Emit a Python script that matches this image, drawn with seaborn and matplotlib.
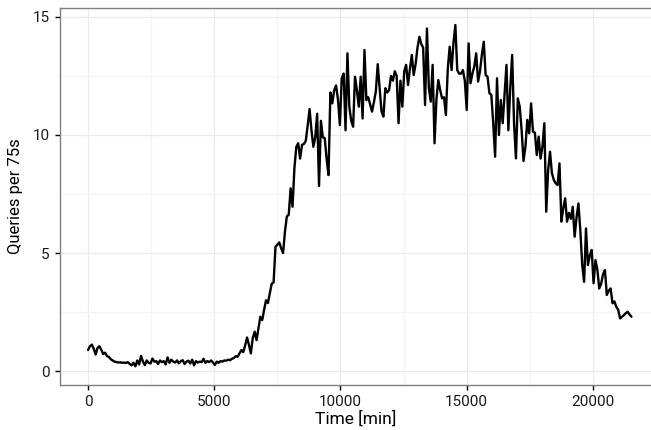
import numpy as np
import pandas as pd
import matplotlib
matplotlib.use('Agg')
import matplotlib.pyplot as plt
from matplotlib.ticker import MultipleLocator
import seaborn as sns

# query counts per 75s bucket, one sample every 75 minutes
step_min = 75
queries = [
    0.89, 1.05, 1.12, 0.95, 0.70, 0.98, 1.05, 0.90, 0.72, 0.78,
    0.63, 0.60, 0.50, 0.45, 0.40, 0.38, 0.36, 0.37, 0.35, 0.36,
    0.34, 0.38, 0.30, 0.24, 0.35, 0.20, 0.45, 0.28, 0.64, 0.40,
    0.25, 0.45, 0.35, 0.32, 0.53, 0.40, 0.42, 0.30, 0.45, 0.38,
    0.42, 0.28, 0.58, 0.35, 0.48, 0.40, 0.36, 0.45, 0.33, 0.42,
    0.46, 0.30, 0.40, 0.44, 0.32, 0.48, 0.24, 0.42, 0.36, 0.40,
    0.38, 0.52, 0.35, 0.42, 0.38, 0.45, 0.36, 0.26, 0.40, 0.35,
    0.42, 0.40, 0.45, 0.44, 0.48, 0.46, 0.52, 0.55, 0.63, 0.60,
    0.75, 0.89, 0.80, 1.10, 1.42, 1.10, 0.75, 1.40, 1.67, 1.31,
    1.80, 2.30, 2.16, 2.60, 3.00, 2.88, 3.30, 3.70, 3.75, 5.27,
    5.35, 5.45, 5.20, 5.00, 5.90, 6.55, 6.62, 7.74, 6.96, 8.60,
    9.50, 9.65, 9.00, 9.58, 9.62, 9.75, 10.40, 11.10, 10.20, 9.50,
    9.90, 10.90, 7.84, 10.60, 9.90, 9.87, 9.00, 8.30, 11.80, 11.34,
    11.90, 12.10, 11.50, 10.42, 12.40, 12.60, 10.20, 13.46, 11.20, 10.60,
    10.35, 12.47, 11.90, 11.20, 12.47, 10.70, 13.60, 11.48, 11.60, 11.30,
    10.99, 11.40, 11.84, 13.00, 12.00, 11.00, 10.78, 11.98, 11.80, 11.90,
    12.50, 12.30, 12.70, 12.50, 10.50, 12.30, 11.20, 12.70, 12.97, 12.12,
    12.80, 13.39, 12.54, 13.00, 13.70, 14.16, 13.85, 13.70, 11.27, 14.51,
    12.00, 11.41, 12.97, 9.65, 11.50, 12.33, 11.90, 11.55, 11.60, 10.85,
    12.80, 13.74, 12.75, 13.90, 14.66, 12.75, 12.60, 12.60, 12.75, 12.30,
    11.06, 13.88, 12.19, 12.60, 12.90, 13.46, 12.26, 12.69, 13.40, 13.95,
    12.54, 12.47, 11.77, 11.70, 10.50, 9.08, 12.40, 10.00, 11.48, 10.50,
    11.70, 12.97, 10.20, 12.00, 13.39, 10.50, 9.01, 11.55, 11.20, 10.20,
    8.90, 9.50, 10.64, 10.07, 11.34, 10.14, 10.10, 9.15, 9.93, 9.00,
    9.50, 10.50, 6.75, 8.50, 9.29, 8.38, 8.10, 7.95, 7.88, 8.80,
    6.33, 6.90, 7.32, 6.33, 6.70, 6.45, 6.96, 5.69, 6.50, 7.10,
    5.97, 4.50, 3.78, 6.04, 4.49, 4.90, 5.13, 3.72, 4.70, 4.30,
    3.50, 3.70, 4.10, 4.28, 3.22, 3.40, 3.50, 2.87, 2.95, 2.72,
    2.60, 2.23, 2.30, 2.37, 2.45, 2.51, 2.40, 2.30,
]
time_min = np.arange(len(queries)) * step_min

x_ticks = [0, 5000, 10000, 15000, 20000]
y_ticks = [0, 5, 10, 15]

df = pd.DataFrame({'time': time_min, 'queries': queries})

sns.set_theme(style="whitegrid")
plt.rcParams['font.family'] = ['Roboto', 'DejaVu Sans']

fig = plt.figure(figsize=(6.51, 4.30), dpi=100)
ax = fig.add_axes([0.0922, 0.1047, 0.9078, 0.8767])

sns.lineplot(data=df, x='time', y='queries', ax=ax, color='black', linewidth=1.7)

ax.set_xlim(-1110, 22300)
ax.set_ylim(-0.59, 15.38)
ax.set_xticks(x_ticks)
ax.set_yticks(y_ticks)
ax.xaxis.set_minor_locator(MultipleLocator(2500))
ax.yaxis.set_minor_locator(MultipleLocator(2.5))

ax.set_facecolor('white')
ax.grid(which='major', color='#ebebeb', linewidth=0.9)
ax.grid(which='minor', color='#f5f5f5', linewidth=0.9)
ax.set_axisbelow(True)

for side in ['left', 'bottom', 'top']:
    ax.spines[side].set_color('#7f7f7f')
    ax.spines[side].set_linewidth(1.0)
    ax.spines[side].set_visible(True)
ax.spines['right'].set_visible(False)

ax.tick_params(axis='both', which='major', direction='out', length=3.5, width=1.0,
               color='black', labelsize=11, labelcolor='#1a1a1a', pad=4,
               bottom=True, left=True)
ax.tick_params(which='minor', length=0)

ax.set_xlabel('Time [min]', fontsize=12.5, color='black', labelpad=1)
ax.set_ylabel('Queries per 75s', fontsize=12, color='black', labelpad=7)

plt.savefig('out.png', dpi=100)
